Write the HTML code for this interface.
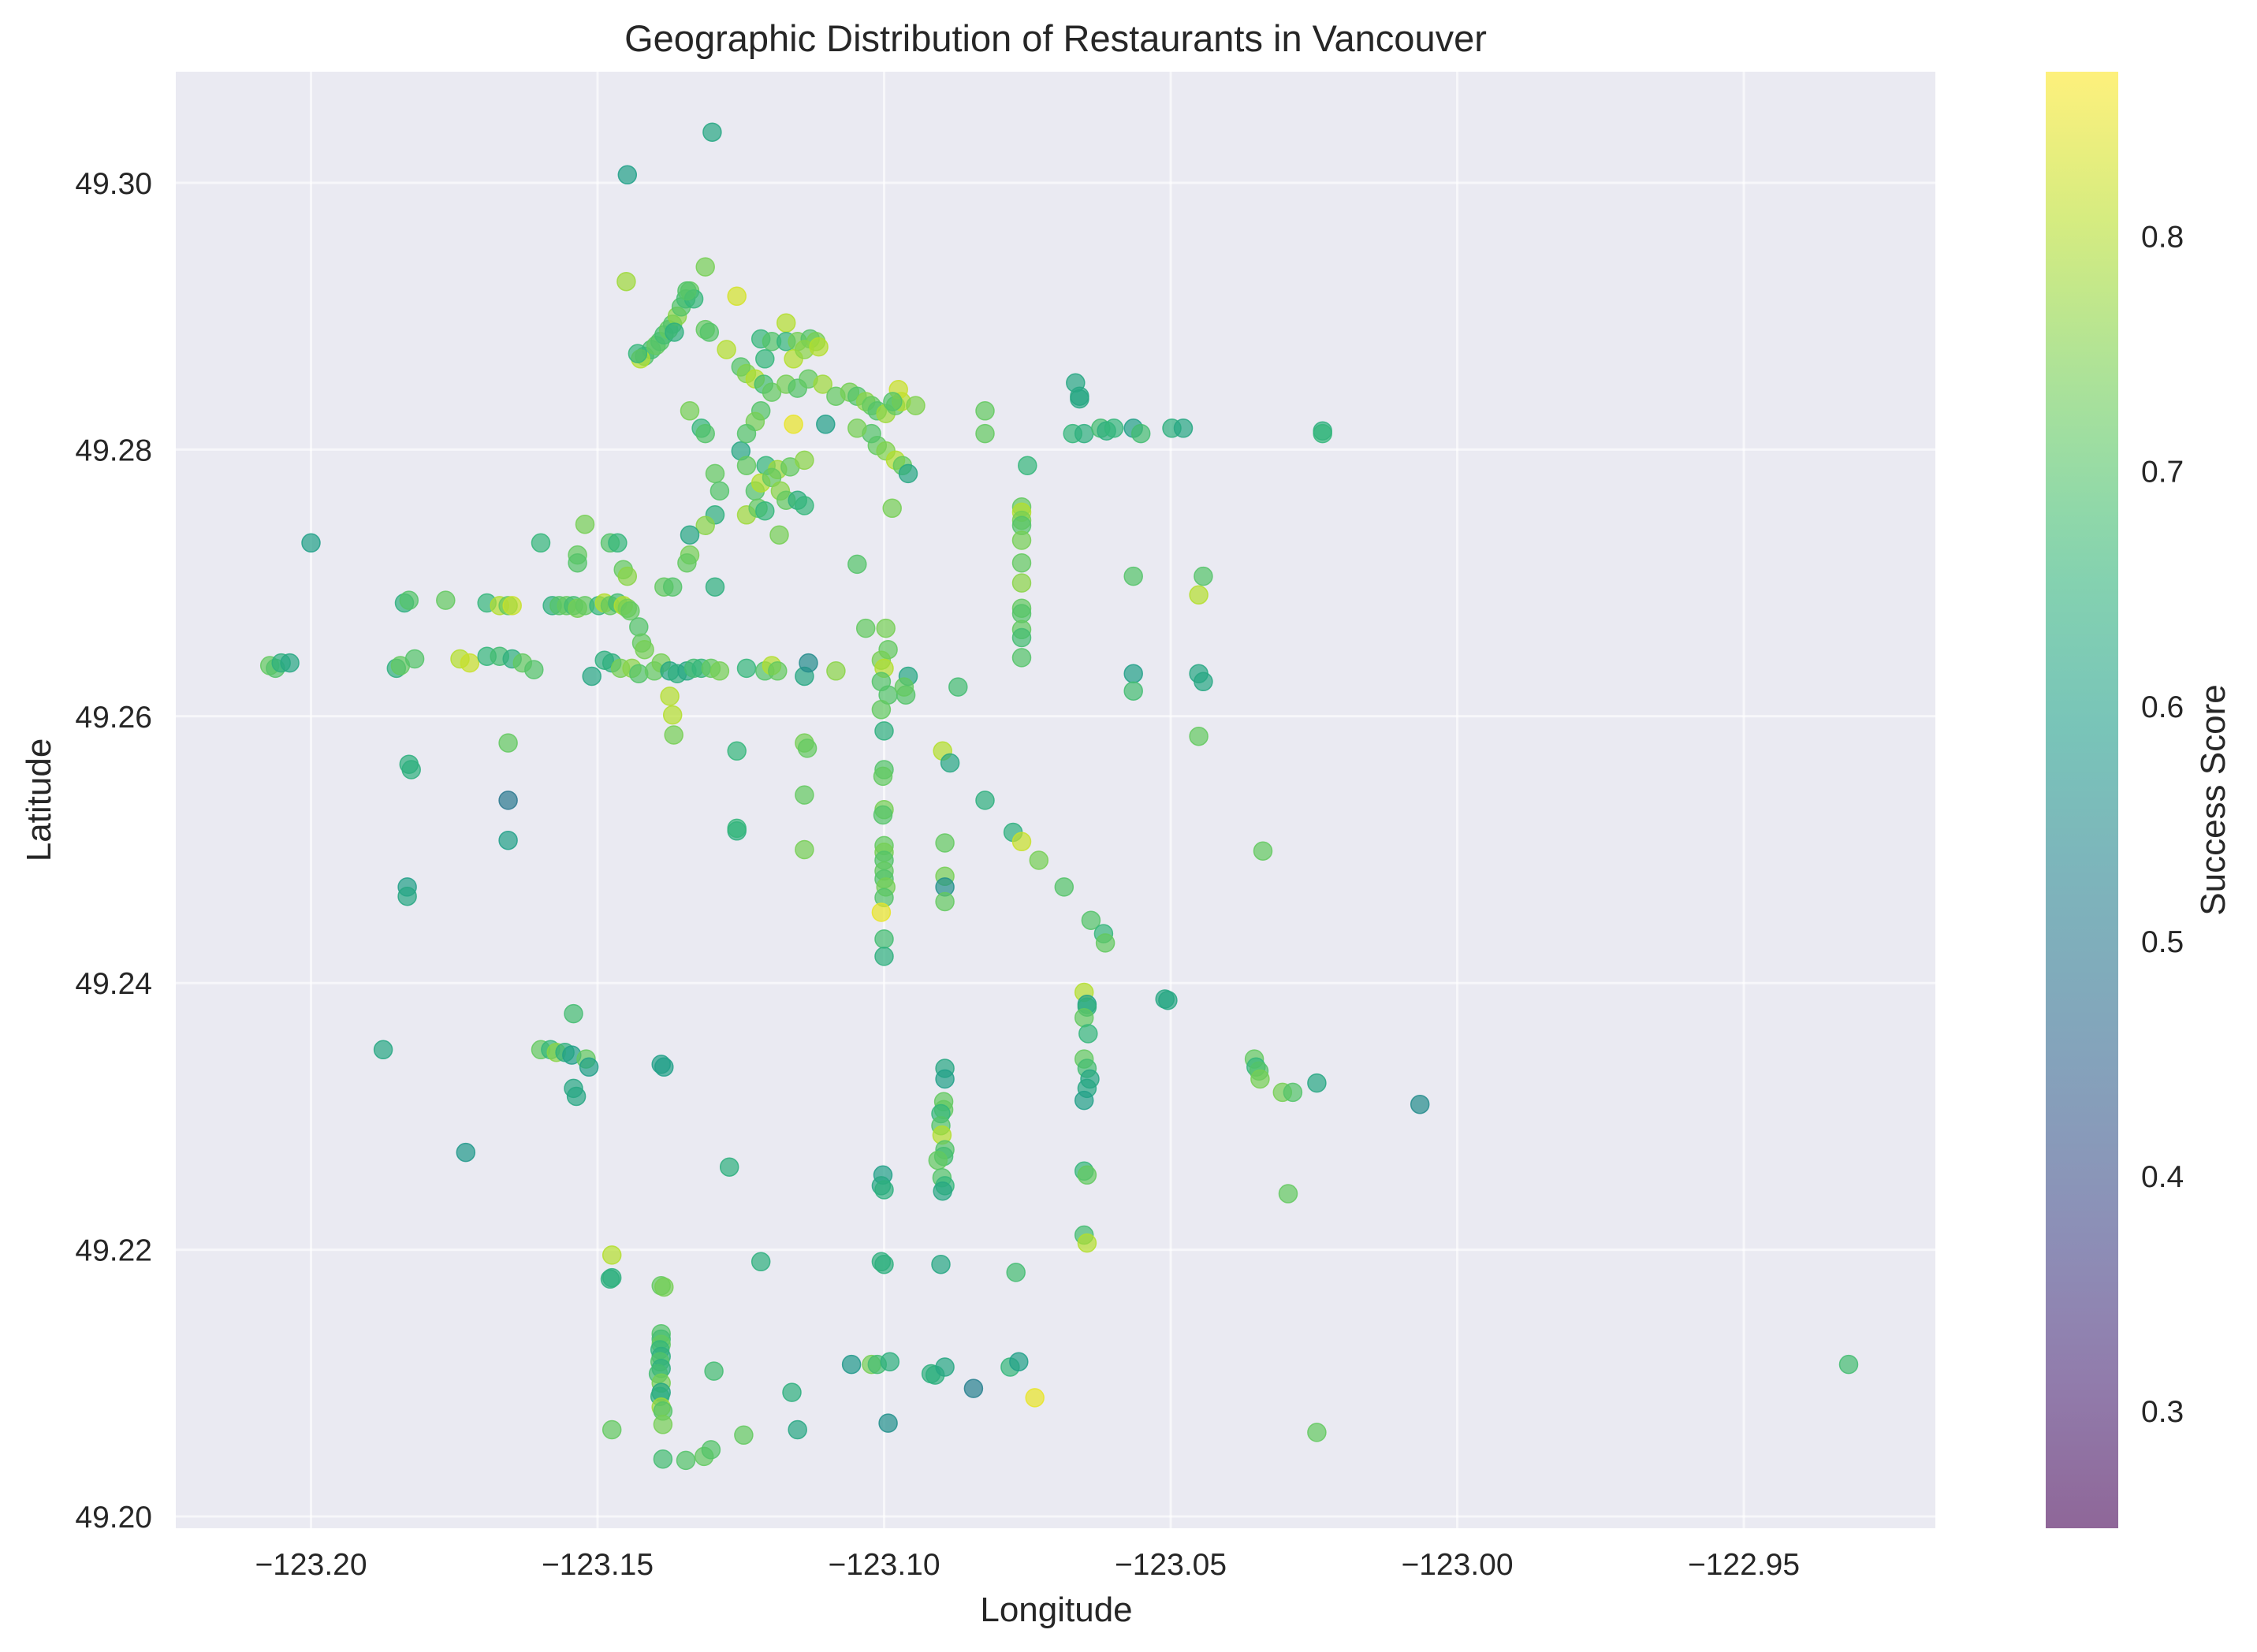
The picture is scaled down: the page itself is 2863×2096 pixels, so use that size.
<!DOCTYPE html>
<html><head><meta charset="utf-8"><style>
html,body{margin:0;padding:0;background:#fff;}
svg{display:block;font-family:"Liberation Sans",Arial,sans-serif;}
</style></head><body>
<svg id="chart" width="2863" height="2096" viewBox="0 0 2863 2096" xmlns="http://www.w3.org/2000/svg">
<defs>
<linearGradient id="cbgrad" x1="0" y1="1" x2="0" y2="0"></linearGradient>
</defs>
<rect x="0" y="0" width="2863" height="2096" fill="#fff"/>
<text x="1339" y="65" text-anchor="middle" font-size="47" fill="#262626">Geographic Distribution of Restaurants in Vancouver</text>
<rect x="223" y="91" width="2232" height="1848" fill="#eaeaf2"/>
<g id="grid"></g>
<g id="xticks"></g>
<g id="yticks"></g>
<g id="points"></g>
<text x="1340" y="2057" text-anchor="middle" font-size="44" fill="#262626">Longitude</text>
<text transform="translate(64,1015) rotate(-90)" text-anchor="middle" font-size="44" fill="#262626">Latitude</text>
<rect x="2595" y="91" width="92" height="1848" fill="url(#cbgrad)"/>
<g id="cbticks"></g>
<text transform="translate(2822,1015) rotate(-90)" text-anchor="middle" font-size="44" fill="#262626">Success Score</text>
</svg>
<script>
const xTicks = [-123.20,-123.15,-123.10,-123.05,-123.00,-122.95];
const xTickLabels = ["\u2212123.20","\u2212123.15","\u2212123.10","\u2212123.05","\u2212123.00","\u2212122.95"];
const yTicks = [49.20,49.22,49.24,49.26,49.28,49.30];
const yTickLabels = ["49.20","49.22","49.24","49.26","49.28","49.30"];
const cbTicks = [0.3,0.4,0.5,0.6,0.7,0.8];
const cbTickLabels = ["0.3","0.4","0.5","0.6","0.7","0.8"];
const scoreMin = 0.25, scoreMax = 0.87;

const downtown = [[-123.1300,49.3038,.62],[-123.1448,49.3006,.6],[-123.1450,49.2926,.78],[-123.1312,49.2937,.74],
[-123.1418,49.2870,.7],[-123.1406,49.2875,.68],[-123.1398,49.2878,.72],[-123.1391,49.2881,.7],[-123.1384,49.2886,.68],[-123.1376,49.2890,.72],[-123.1369,49.2894,.7],[-123.1361,49.2900,.76],[-123.1354,49.2907,.7],[-123.1346,49.2913,.68],[-123.1339,49.2919,.72],[-123.1332,49.2913,.66],[-123.1344,49.2919,.7],[-123.1425,49.2868,.8],[-123.1430,49.2872,.66],[-123.1366,49.2888,.64],
[-123.1257,49.2915,.83],[-123.1312,49.2890,.72],[-123.1305,49.2888,.7],[-123.1275,49.2875,.8],[-123.1171,49.2895,.8],
[-123.1215,49.2883,.66],[-123.1196,49.2881,.7],[-123.1171,49.2881,.66],[-123.1151,49.2881,.74],[-123.1129,49.2883,.7],[-123.1119,49.2881,.74],[-123.1208,49.2868,.66],[-123.1158,49.2868,.8],[-123.1139,49.2875,.76],[-123.1114,49.2877,.8],
[-123.1250,49.2862,.7],[-123.1240,49.2857,.75],[-123.1225,49.2853,.8],[-123.1210,49.2849,.68],[-123.1196,49.2843,.72],[-123.1171,49.2849,.74],[-123.1151,49.2846,.7],[-123.1132,49.2853,.72],[-123.1107,49.2849,.78],
[-123.1158,49.2819,.85],[-123.1102,49.2819,.6],
[-123.1084,49.2840,.72],[-123.1060,49.2843,.74],[-123.1047,49.2840,.7],[-123.1032,49.2836,.76],[-123.1022,49.2833,.72],[-123.1012,49.2829,.7],[-123.0997,49.2827,.78],[-123.0980,49.2833,.72],[-123.0970,49.2836,.8],[-123.0945,49.2833,.75],[-123.0975,49.2845,.82],[-123.0985,49.2836,.7],
[-123.1012,49.2803,.72],[-123.0997,49.2799,.75],[-123.0980,49.2792,.8],[-123.0968,49.2788,.72],[-123.0958,49.2782,.62],[-123.1022,49.2812,.7],[-123.1047,49.2816,.74],
[-123.1250,49.2799,.62],[-123.1215,49.2829,.7],[-123.1225,49.2821,.74],[-123.1240,49.2812,.7],[-123.1240,49.2788,.72],[-123.1206,49.2788,.66],[-123.1186,49.2785,.78],[-123.1164,49.2787,.72],[-123.1139,49.2792,.76],
[-123.1225,49.2769,.7],[-123.1215,49.2775,.8],[-123.1196,49.2779,.72],[-123.1181,49.2769,.76],[-123.1171,49.2762,.72],[-123.1151,49.2762,.64],
[-123.1295,49.2782,.72],[-123.1287,49.2769,.7],[-123.1295,49.2751,.64],[-123.1312,49.2743,.76],[-123.1339,49.2736,.62],[-123.1339,49.2721,.74],[-123.1344,49.2715,.72],
[-123.1319,49.2816,.66],[-123.1312,49.2812,.7],[-123.1339,49.2829,.74],
[-123.1240,49.2751,.78],[-123.1220,49.2756,.72],[-123.1208,49.2754,.66],[-123.1183,49.2736,.74],[-123.1139,49.2758,.66],[-123.0986,49.2756,.74],[-123.1047,49.2714,.7]];

const eastNorth = [[-123.0824,49.2829,.72],[-123.0824,49.2812,.72],
[-123.0666,49.2850,.62],[-123.0659,49.2840,.62],[-123.0659,49.2838,.62],
[-123.0671,49.2812,.66],[-123.0651,49.2812,.64],[-123.0622,49.2816,.68],[-123.0612,49.2814,.64],[-123.0599,49.2816,.66],[-123.0565,49.2816,.6],[-123.0552,49.2812,.68],[-123.0498,49.2816,.64],[-123.0478,49.2816,.62],[-123.0235,49.2814,.64],[-123.0235,49.2812,.66],
[-123.0750,49.2788,.66],
[-123.0760,49.2757,.72],[-123.0760,49.2753,.8],[-123.0760,49.2747,.74],[-123.0760,49.2743,.7],[-123.0760,49.2732,.74],[-123.0760,49.2715,.72],[-123.0760,49.2700,.76],[-123.0760,49.2681,.72],[-123.0760,49.2677,.7],[-123.0760,49.2665,.72],[-123.0760,49.2659,.68],[-123.0760,49.2644,.7],
[-123.0565,49.2705,.7],[-123.0565,49.2632,.6],[-123.0565,49.2619,.68],
[-123.0451,49.2691,.8],[-123.0443,49.2705,.7],[-123.0451,49.2632,.62],[-123.0443,49.2626,.62],[-123.0451,49.2585,.72]];

const westside = [[-123.2000,49.2730,.6],
[-123.1599,49.2730,.66],[-123.1535,49.2721,.72],[-123.1535,49.2715,.7],[-123.1522,49.2744,.74],[-123.1478,49.2730,.7],[-123.1465,49.2730,.66],[-123.1455,49.2710,.72],[-123.1448,49.2705,.76],
[-123.1837,49.2685,.64],[-123.1829,49.2687,.7],[-123.1765,49.2687,.72],[-123.1693,49.2685,.66],[-123.1671,49.2683,.8],[-123.1656,49.2683,.72],[-123.1649,49.2683,.82],[-123.1579,49.2683,.64],[-123.1567,49.2683,.7],[-123.1554,49.2683,.72],[-123.1542,49.2683,.68],[-123.1535,49.2681,.74],[-123.1522,49.2683,.72],[-123.1498,49.2683,.66],[-123.1488,49.2685,.8],[-123.1478,49.2683,.72],[-123.1465,49.2685,.68],[-123.1455,49.2683,.8],[-123.1448,49.2681,.74],[-123.1443,49.2679,.72],
[-123.1384,49.2697,.72],[-123.1369,49.2697,.7],[-123.1295,49.2697,.64],
[-123.1428,49.2667,.7],[-123.1423,49.2655,.72],[-123.1418,49.2650,.74]];

const broadway = [[-123.2072,49.2638,.72],[-123.2062,49.2636,.7],[-123.2052,49.2640,.64],[-123.2037,49.2640,.62],[-123.1851,49.2636,.64],[-123.1844,49.2638,.72],[-123.1819,49.2643,.7],[-123.1740,49.2643,.8],[-123.1723,49.2640,.82],[-123.1693,49.2645,.66],[-123.1671,49.2645,.68],[-123.1649,49.2643,.64],[-123.1631,49.2640,.72],[-123.1611,49.2635,.7],
[-123.1510,49.2630,.62],[-123.1488,49.2642,.64],[-123.1475,49.2640,.64],[-123.1460,49.2636,.74],[-123.1440,49.2636,.76],[-123.1428,49.2632,.7],[-123.1401,49.2634,.72],[-123.1389,49.2640,.74],[-123.1374,49.2634,.62],[-123.1361,49.2632,.64],[-123.1344,49.2634,.62],[-123.1332,49.2636,.68],[-123.1319,49.2636,.66],[-123.1302,49.2636,.72],[-123.1287,49.2634,.74],[-123.1240,49.2636,.66],[-123.1208,49.2634,.7],[-123.1196,49.2638,.8],[-123.1186,49.2634,.72],[-123.1139,49.2630,.62],[-123.1132,49.2640,.55],[-123.1084,49.2634,.76],
[-123.1374,49.2615,.8],[-123.1369,49.2601,.8],[-123.1367,49.2586,.74],[-123.1656,49.2580,.72],[-123.1257,49.2574,.66],[-123.1139,49.2580,.74],[-123.1134,49.2576,.72]];

const mainStreet = [[-123.1032,49.2666,.72],[-123.0997,49.2666,.74],[-123.0993,49.2650,.72],[-123.1005,49.2642,.74],[-123.1000,49.2636,.8],[-123.1005,49.2626,.7],[-123.0993,49.2616,.7],[-123.0962,49.2616,.7],[-123.0958,49.2630,.62],[-123.0965,49.2622,.72],[-123.1005,49.2605,.72],[-123.1000,49.2589,.64],[-123.0871,49.2622,.68],[-123.0898,49.2574,.8],[-123.0885,49.2565,.62],
[-123.1000,49.2560,.7],[-123.1002,49.2555,.72],[-123.1000,49.2530,.74],[-123.1002,49.2526,.7],[-123.1000,49.2503,.72],[-123.1000,49.2498,.74],[-123.1000,49.2492,.7],[-123.1000,49.2484,.72],[-123.1000,49.2478,.7],[-123.0997,49.2472,.74],[-123.1000,49.2464,.7],[-123.1005,49.2453,.85],[-123.1000,49.2433,.68],[-123.1000,49.2420,.64],
[-123.0894,49.2505,.72],[-123.0894,49.2480,.74],[-123.0894,49.2472,.56],[-123.0894,49.2461,.72],
[-123.0824,49.2537,.64],[-123.0775,49.2513,.64],[-123.0760,49.2506,.82],[-123.0730,49.2492,.74],[-123.0686,49.2472,.7],[-123.0639,49.2447,.7],[-123.0617,49.2437,.66],[-123.0614,49.2430,.72],[-123.0339,49.2499,.72],
[-123.1829,49.2564,.64],[-123.1825,49.2560,.64],[-123.1656,49.2537,.5],[-123.1656,49.2507,.6],[-123.1139,49.2541,.72],[-123.1139,49.2500,.74],[-123.1257,49.2514,.64],[-123.1257,49.2516,.66],
[-123.1832,49.2472,.6],[-123.1832,49.2465,.62]];

const south = [[-123.0651,49.2393,.8],[-123.0646,49.2384,.6],[-123.0646,49.2382,.64],[-123.0651,49.2374,.72],[-123.0644,49.2362,.66],[-123.0510,49.2388,.62],[-123.0505,49.2387,.62],
[-123.1874,49.2350,.62],[-123.1599,49.2350,.72],[-123.1582,49.2350,.66],[-123.1572,49.2348,.76],[-123.1557,49.2348,.64],[-123.1545,49.2346,.6],[-123.1520,49.2343,.72],[-123.1515,49.2337,.6],[-123.1542,49.2377,.68],[-123.1542,49.2321,.62],[-123.1537,49.2315,.62],[-123.1389,49.2339,.6],[-123.1384,49.2337,.6],
[-123.0894,49.2336,.62],[-123.0894,49.2328,.6],[-123.0896,49.2311,.72],[-123.0896,49.2305,.72],[-123.0901,49.2302,.66],[-123.0901,49.2293,.7],[-123.0899,49.2286,.8],[-123.0894,49.2275,.7],[-123.0896,49.2270,.68],[-123.0906,49.2267,.72],[-123.0899,49.2254,.7],[-123.0894,49.2248,.66],[-123.0898,49.2244,.62],
[-123.0651,49.2343,.72],[-123.0646,49.2336,.68],[-123.0641,49.2328,.62],[-123.0646,49.2321,.62],[-123.0651,49.2312,.6],
[-123.0354,49.2343,.72],[-123.0351,49.2337,.66],[-123.0346,49.2334,.7],[-123.0344,49.2328,.74],[-123.0305,49.2318,.74],[-123.0287,49.2318,.7],[-123.0245,49.2325,.62],[-123.0065,49.2309,.55],
[-123.1730,49.2273,.58],[-123.1270,49.2262,.64],[-123.1002,49.2256,.6],[-123.1005,49.2248,.62],[-123.1000,49.2245,.64],
[-123.0651,49.2259,.66],[-123.0646,49.2256,.72],[-123.0295,49.2242,.72],
[-123.0651,49.2211,.68],[-123.0646,49.2205,.8]];

const farSouth = [[-123.1475,49.2196,.8],[-123.1475,49.2179,.64],[-123.1478,49.2178,.64],[-123.1389,49.2173,.72],[-123.1384,49.2172,.74],[-123.1215,49.2191,.64],[-123.1005,49.2191,.64],[-123.1000,49.2189,.64],[-123.0901,49.2189,.62],[-123.0770,49.2183,.68],
[-123.1389,49.2137,.7],[-123.1389,49.2133,.68],[-123.1389,49.2129,.72],[-123.1391,49.2125,.66],[-123.1389,49.2120,.64],[-123.1391,49.2116,.7],[-123.1389,49.2111,.64],[-123.1394,49.2107,.68],[-123.1389,49.2100,.74],[-123.1389,49.2093,.62],[-123.1391,49.2090,.64],[-123.1389,49.2082,.78],[-123.1386,49.2079,.7],[-123.1386,49.2069,.74],
[-123.1297,49.2109,.68],[-123.1161,49.2093,.64],[-123.1475,49.2065,.72],[-123.1386,49.2043,.68],[-123.1346,49.2042,.7],[-123.1314,49.2045,.72],[-123.1302,49.2050,.7],[-123.1245,49.2061,.72],[-123.1151,49.2065,.62],
[-123.1057,49.2114,.58],[-123.1022,49.2114,.74],[-123.1012,49.2114,.68],[-123.0990,49.2116,.64],[-123.0993,49.2070,.56],[-123.0918,49.2107,.64],[-123.0911,49.2106,.64],[-123.0894,49.2112,.62],[-123.0844,49.2096,.52],[-123.0780,49.2112,.66],[-123.0765,49.2116,.6],[-123.0737,49.2089,.85],[-122.9317,49.2114,.68],[-123.0245,49.2063,.72]];

const NS='http://www.w3.org/2000/svg';
function xScale(lon){ return 394.5 + (lon + 123.20) * 7270; }
function yScale(lat){ return 1924 - (lat - 49.20) * 16920; }
function cbScale(v){ return 1939 - (v - scoreMin) / (scoreMax - scoreMin) * 1848; }
const vir=[[68,1,84],[72,40,120],[62,74,137],[49,104,142],[38,130,142],[31,158,137],[53,183,121],[109,205,89],[180,222,44],[253,231,37]];
function viridis(t){ t=Math.max(0,Math.min(1,t)); const p=t*(vir.length-1); const i=Math.min(vir.length-2,Math.floor(p)); const f=p-i;
 const c=vir[i].map((a,k)=>Math.round(a+(vir[i+1][k]-a)*f)); return 'rgb('+c.join(',')+')'; }
function colorFor(s){ return viridis((s-scoreMin)/(scoreMax-scoreMin)); }

const grid=document.getElementById('grid');
xTicks.forEach((v,i)=>{
  const l=document.createElementNS(NS,'line');
  l.setAttribute('x1',xScale(v));l.setAttribute('x2',xScale(v));l.setAttribute('y1',91);l.setAttribute('y2',1939);
  l.setAttribute('stroke','#fff');l.setAttribute('stroke-width','3');l.setAttribute('stroke-opacity','0.6');
  
  
  grid.appendChild(l);
  const t=document.createElementNS(NS,'text');
  t.setAttribute('x',xScale(v));t.setAttribute('y',1998);t.setAttribute('text-anchor','middle');t.setAttribute('font-size','39');t.setAttribute('fill','#262626');
  t.textContent=xTickLabels[i];
  
  
  document.getElementById('xticks').appendChild(t);
});
yTicks.forEach((v,i)=>{
  const l=document.createElementNS(NS,'line');
  l.setAttribute('x1',223);l.setAttribute('x2',2455);l.setAttribute('y1',yScale(v));l.setAttribute('y2',yScale(v));
  l.setAttribute('stroke','#fff');l.setAttribute('stroke-width','3');l.setAttribute('stroke-opacity','0.6');
  
  
  grid.appendChild(l);
  const t=document.createElementNS(NS,'text');
  t.setAttribute('x',193);t.setAttribute('y',yScale(v)+14);t.setAttribute('text-anchor','end');t.setAttribute('font-size','39');t.setAttribute('fill','#262626');
  t.textContent=yTickLabels[i];
  
  
  document.getElementById('yticks').appendChild(t);
});
cbTicks.forEach((v,i)=>{
  const t=document.createElementNS(NS,'text');
  t.setAttribute('x',2716);t.setAttribute('y',cbScale(v)+14);t.setAttribute('font-size','39');t.setAttribute('fill','#262626');
  t.textContent=cbTickLabels[i];
  
  
  document.getElementById('cbticks').appendChild(t);
});
const grad=document.getElementById('cbgrad');
for(let k=0;k<=20;k++){
  const st=document.createElementNS(NS,'stop');
  st.setAttribute('offset',(k/20*100)+'%');st.setAttribute('stop-color',viridis(k/20));st.setAttribute('stop-opacity','0.6');
  grad.appendChild(st);
}
const pts=document.getElementById('points');
[downtown,eastNorth,westside,broadway,mainStreet,south,farSouth].forEach(group=>{
  group.forEach(d=>{
    const c=document.createElementNS(NS,'circle');
    c.setAttribute('cx',xScale(d[0]).toFixed(1));c.setAttribute('cy',yScale(d[1]).toFixed(1));c.setAttribute('r','11.5');
    const col=colorFor(d[2]);
    c.setAttribute('fill',col);c.setAttribute('fill-opacity','0.7');c.setAttribute('stroke',col);c.setAttribute('stroke-opacity','0.85');c.setAttribute('stroke-width','1.5');
    
    
    pts.appendChild(c);
  });
});
</script>
</body></html>
